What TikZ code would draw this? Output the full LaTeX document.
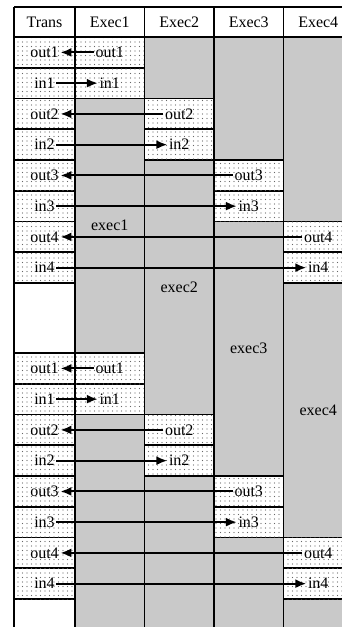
\documentclass[tikz,border=0pt]{standalone}
\usepackage{fontspec}
\setmainfont{Liberation Serif}
\usetikzlibrary{arrows.meta,patterns.meta}

\tikzset{
  slot/.style={draw, line width=1.8pt, fill=white,
    postaction={pattern={Dots[distance=4.5pt,radius=0.55pt]}, pattern color=black!60}},
  busy/.style={fill=black!21},
  lbl/.style={inner sep=1.5pt, font=\fontsize{16}{19}\selectfont},
  msg/.style={->, line width=2pt},
  rule/.style={line width=1.8pt},
}

\begin{document}
\begin{tikzpicture}[x=1pt, y=-1pt, >={Latex[length=11pt,width=9pt]}]
        \fill[white] (0,0) rectangle (342,627);
        \useasboundingbox (0,0) rectangle (342,627);
        \clip (0,0) rectangle (342,627);

        % exec columns are busy unless a slot says otherwise
        \fill[busy] (75,37) rectangle (353,627);

        \node[lbl] (Htrans) at (44.5,22) {Trans};
        \foreach \k in {1,...,4} {
            \pgfmathsetmacro\xc{75+69.5*(\k-1)+34.75}
            \node[lbl] (Hexec\k) at (\xc,22) {Exec\k};
        }

        % two rounds of out/in slots
        \foreach \b/\y in {a/37,b/353} {
            \foreach \k in {1,...,4} {
                \pgfmathsetmacro\yo{\y+(2*\k-2)*30.75}
                \pgfmathsetmacro\yi{\yo+30.75}
                \pgfmathsetmacro\ye{\yi+30.75}
                \pgfmathsetmacro\xl{75+69.5*(\k-1)}
                \pgfmathsetmacro\xr{\xl+69.5}
                \pgfmathsetmacro\xc{\xl+34.75}
                \draw[slot] (14,\yo) rectangle (75,\yi);
                \draw[slot] (14,\yi) rectangle (75,\ye);
                \draw[slot] (\xl,\yo) rectangle (\xr,\yi);
                \draw[slot] (\xl,\yi) rectangle (\xr,\ye);
                \node[lbl] (To\k\b) at (44.5,\yo+15.4) {out\k};
                \node[lbl] (Ti\k\b) at (44.5,\yi+15.4) {in\k};
                \node[lbl] (Eo\k\b) at (\xc,\yo+15.4) {out\k};
                \node[lbl] (Ei\k\b) at (\xc,\yi+15.4) {in\k};
            }
        }

        % column rules and header lines
        \foreach \k in {0,...,4} {
            \pgfmathsetmacro\xl{\k==0 ? 14 : 75+69.5*(\k-1)}
            \draw[rule] (\xl,7) -- (\xl,627);
        }
        \draw[rule] (14,7) -- (353,7);
        \draw[rule] (14,37) -- (353,37);

        % exec phases between the two rounds
        \foreach \k in {1,...,4} {
            \pgfmathsetmacro\xc{75+69.5*(\k-1)+34.75}
            \pgfmathsetmacro\ym{(37+2*\k*30.75+353+(2*\k-2)*30.75)/2}
            \node[lbl] (Run\k) at (\xc,\ym) {exec\k};
        }

        % messages
        \foreach \b in {a,b} {
            \foreach \k in {1,...,4} {
                \draw[msg] (Eo\k\b) -- (To\k\b);
                \draw[msg] (Ti\k\b) -- (Ei\k\b);
            }
        }
\end{tikzpicture}
\end{document}
